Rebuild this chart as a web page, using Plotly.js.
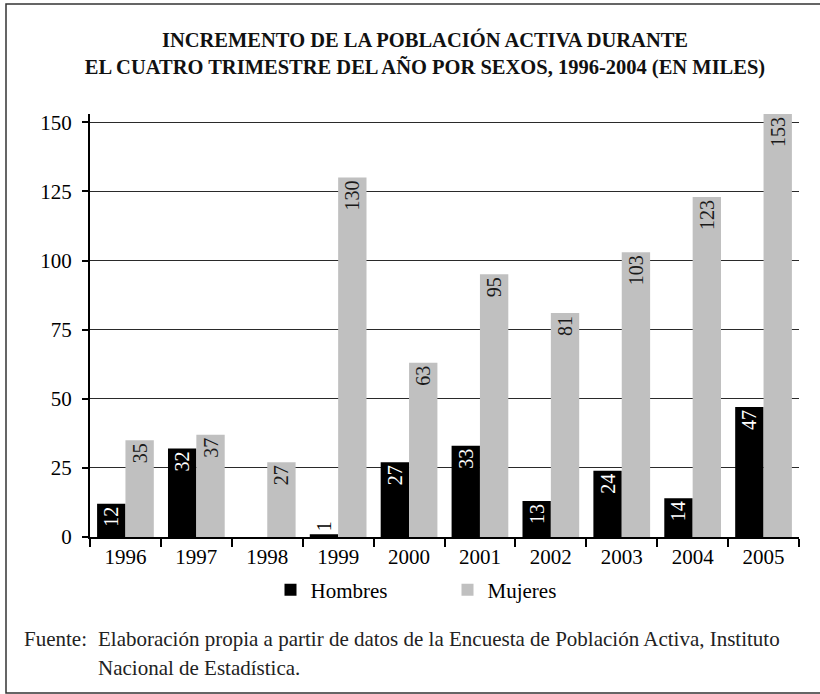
<!DOCTYPE html>
<html>
<head>
<meta charset="utf-8">
<script src="https://cdn.plot.ly/plotly-3.0.1.min.js"></script>
<style>html,body{margin:0;padding:0;background:#fff;}#chart{width:820px;height:694px;}</style>
</head>
<body>
<div id="chart"></div>
<script>
const years = ['1996','1997','1998','1999','2000','2001','2002','2003','2004','2005'];
const hombres = [12, 32, null, 1, 27, 33, 13, 24, 14, 47];
const mujeres = [35, 37, 27, 130, 63, 95, 81, 103, 123, 153];
const yTicks = [0, 25, 50, 75, 100, 125, 150];
const titleText = 'INCREMENTO DE LA POBLACIÓN ACTIVA DURANTE<br>EL CUATRO TRIMESTRE DEL AÑO POR SEXOS, 1996-2004 (EN MILES)';
const sourceLabel = 'Fuente:';
const sourceLine1 = 'Elaboración propia a partir de datos de la Encuesta de Población Activa, Instituto';
const sourceLine2 = 'Nacional de Estadística.';

const serif = 'Liberation Serif, Times New Roman, serif';

const hPos = hombres.map(v => (v !== null && v < 5) ? 'outside' : 'inside');

const traces = [
  {
    type: 'bar', name: 'Hombres', x: years, y: hombres,
    marker: {color: '#000000'},
    text: hombres.map(v => v === null ? '' : String(v)),
    textposition: hPos, textangle: -90, insidetextanchor: 'end',
    constraintext: 'none', cliponaxis: false,
    textfont: {family: serif, size: 20},
    insidetextfont: {family: serif, size: 20, color: '#ffffff'},
    outsidetextfont: {family: serif, size: 20, color: '#000000'},
    hoverinfo: 'x+y'
  },
  {
    type: 'bar', name: 'Mujeres', x: years, y: mujeres,
    marker: {color: '#c0c0c0'},
    text: mujeres.map(v => String(v)),
    textposition: 'inside', textangle: -90, insidetextanchor: 'end',
    constraintext: 'none', cliponaxis: false,
    textfont: {family: serif, size: 20},
    insidetextfont: {family: serif, size: 20, color: '#1a1a1a'},
    hoverinfo: 'x+y'
  }
];

const L = 90, R = 21, T = 114, B = 157;
const W = 820, H = 694;
const pw = W - L - R, ph = H - T - B;
const px2x = p => (p - L) / pw;
const px2y = p => (H - B - p) / ph;

const layout = {
  width: W, height: H,
  margin: {l: L, r: R, t: T, b: B, pad: 0},
  paper_bgcolor: '#ffffff', plot_bgcolor: '#ffffff',
  font: {family: serif, size: 21, color: '#000000'},
  title: {
    text: titleText,
    font: {family: serif, size: 20.5, color: '#111111', weight: 'bold'},
    x: 425 / W, xref: 'container', y: 1 - 47/H, yanchor: 'middle', xanchor: 'center'
  },
  barmode: 'group', bargap: 0.2, bargroupgap: 0,
  xaxis: {
    type: 'category', tickson: 'boundaries', ticks: 'outside', ticklen: 8, tickwidth: 2, tickcolor: '#000',
    showline: true, linecolor: '#000', linewidth: 2, showgrid: false,
    tickfont: {family: serif, size: 21, color: '#000'}, fixedrange: true
  },
  yaxis: {
    range: [0, 153], tickvals: yTicks, ticks: 'outside', ticklen: 6, tickwidth: 2, tickcolor: '#000',
    showline: true, linecolor: '#000', linewidth: 2,
    showgrid: true, gridcolor: '#2a2a2a', gridwidth: 1, zeroline: false,
    tickfont: {family: serif, size: 21, color: '#000'}, ticklabelstandoff: 6, fixedrange: true
  },
  showlegend: true,
  legend: {
    orientation: 'h', x: 0.5 + 3/pw, xanchor: 'center', y: px2y(590), yanchor: 'middle',
    font: {family: serif, size: 21, color: '#000'}, entrywidth: 132, itemwidth: 30,
    bgcolor: 'rgba(0,0,0,0)'
  },
  shapes: [{
    type: 'rect', xref: 'paper', yref: 'paper', layer: 'below',
    x0: px2x(6), x1: px2x(823), y0: px2y(693), y1: px2y(4),
    line: {color: '#333333', width: 1.5}, fillcolor: 'rgba(0,0,0,0)'
  }],
  annotations: [
    {xref: 'paper', yref: 'paper', x: px2x(22), y: px2y(639), xanchor: 'left', yanchor: 'middle',
     text: sourceLabel, showarrow: false, font: {family: serif, size: 21, color: '#222'}},
    {xref: 'paper', yref: 'paper', x: px2x(96), y: px2y(639), xanchor: 'left', yanchor: 'middle',
     text: sourceLine1, showarrow: false, font: {family: serif, size: 21, color: '#222'}},
    {xref: 'paper', yref: 'paper', x: px2x(96), y: px2y(668), xanchor: 'left', yanchor: 'middle',
     text: sourceLine2, showarrow: false, font: {family: serif, size: 21, color: '#222'}}
  ]
};

Plotly.newPlot('chart', traces, layout, {displayModeBar: false, staticPlot: true});
</script>
</body>
</html>
